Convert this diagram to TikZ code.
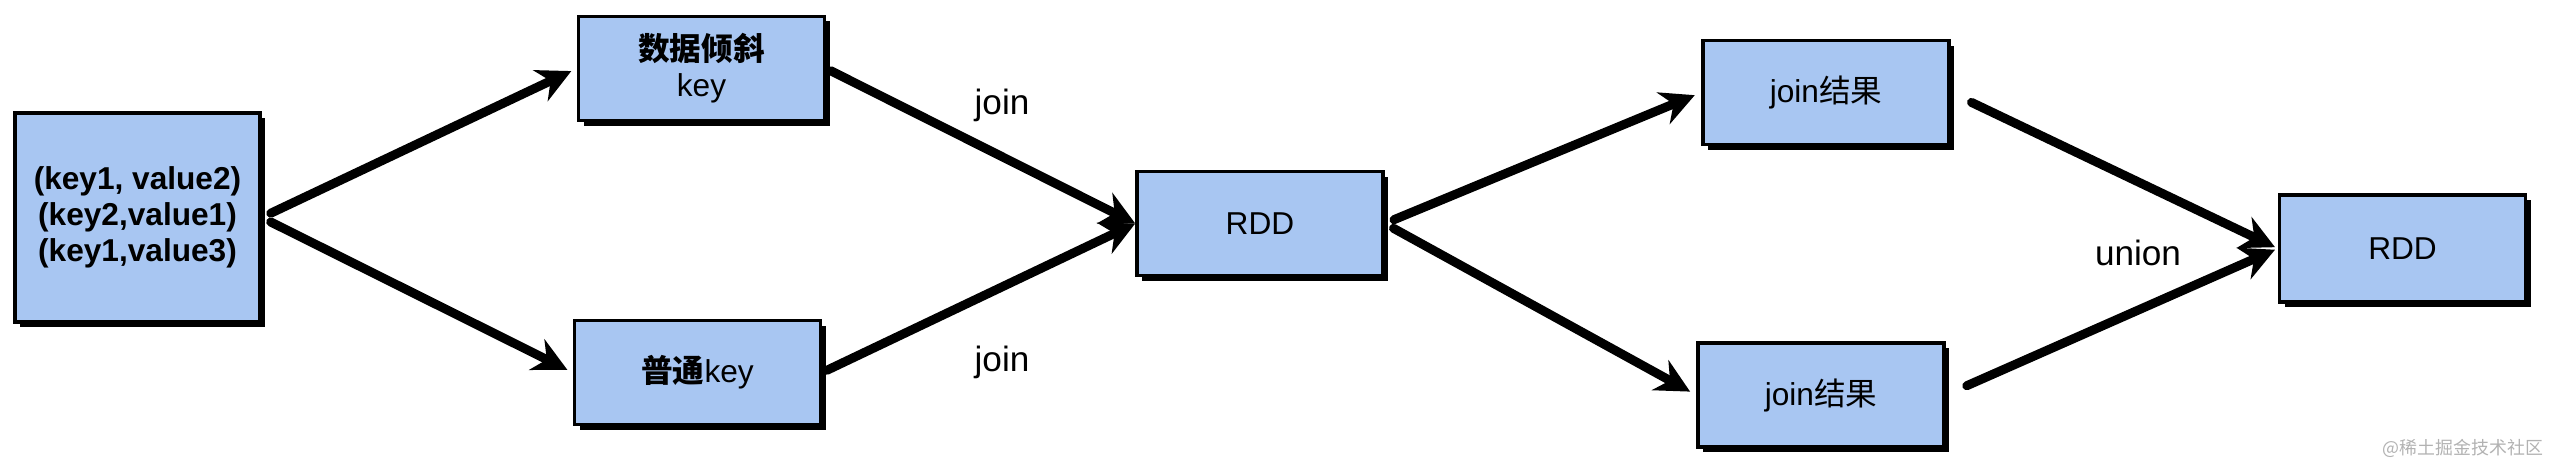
\documentclass[tikz,border=0pt]{standalone}
\usepackage{fontspec}
\setmainfont{Liberation Sans}
\newfontfamily\cjk{Noto Sans CJK SC}
\usetikzlibrary{arrows.meta,shadows}
\definecolor{boxblue}{HTML}{A8C6F2}

\begin{document}
\begin{tikzpicture}[>={Stealth[length=0.34cm,width=0.34cm]},line width=0.09cm,line cap=round,
  rddbox/.style={draw,line width=0.035cm,fill=boxblue,minimum width=2.46cm,minimum height=1.04cm,
    align=center,font=\fontsize{9}{10.3}\selectfont,
    drop shadow={shadow xshift=0.05cm,shadow yshift=-0.05cm,fill=black,opacity=1}},
  lbl/.style={font=\fontsize{10}{12}\selectfont}]
  \useasboundingbox (0,0) rectangle (25.6,4.73);
  \node[rddbox,minimum width=2.45cm,minimum height=2.09cm,font=\fontsize{9}{10.3}\selectfont\bfseries] (src) at (1.375,2.555)
    {(key1, value2)\\(key2,value1)\\(key1,value3)};
  \node[rddbox] (skew) at (7.015,4.045) {{\cjk\bfseries 数据倾斜}\\key};
  \node[rddbox] (norm) at (6.975,1.005) {{\cjk\bfseries 普通}key};
  \node[rddbox] (rdd1) at (12.6,2.495) {RDD};
  \node[rddbox] (res1) at (18.26,3.805) {join{\cjk 结果}};
  \node[rddbox] (res2) at (18.21,0.78) {join{\cjk 结果}};
  \node[rddbox,minimum height=1.07cm] (rdd2) at (24.025,2.245) {RDD};
  \node[lbl] (j1) at (10.02,3.68) {join};
  \node[lbl] (j2) at (10.02,1.11) {join};
  \node[lbl] (un) at (21.38,2.2) {union};
  \node[font=\fontsize{5.1}{6}\selectfont\cjk,text=black!30] (wm) at (24.63,0.25) {@稀土掘金技术社区};
  \path[->]
    (src.east) edge[shorten <=0.1cm,shorten >=0.06cm] (skew.west)
    (src.east) edge[shorten <=0.1cm,shorten >=0.06cm] (norm.west)
    (skew.east) edge[shorten <=0.05cm] (rdd1.west)
    (norm.east) edge[shorten <=0.05cm] (rdd1.west)
    (rdd1.east) edge[shorten <=0.1cm,shorten >=0.07cm] (res1.west)
    (rdd1.east) edge[shorten <=0.1cm,shorten >=0.07cm] (res2.west)
    (res1.east) edge[shorten <=0.23cm,shorten >=0.03cm] (rdd2.west)
    (res2.east) edge[shorten <=0.23cm,shorten >=0.03cm] (rdd2.west);
\end{tikzpicture}
\end{document}
